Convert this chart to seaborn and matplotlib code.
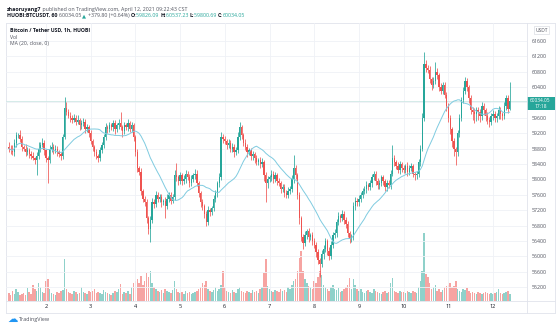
import numpy as np
import pandas as pd
import matplotlib
matplotlib.use("Agg")
import matplotlib.pyplot as plt
from matplotlib.lines import Line2D
from matplotlib.patches import Rectangle
import seaborn as sns

# ---------------------------------------------------------------
# BTC/USDT hourly candles (HUOBI), Apr 1 04:00 -> Apr 12 09:00
# ---------------------------------------------------------------
open_first = 58850.0

close = [
    # Apr 1 (04:00-23:00)
    58800, 58750, 58700, 58950, 59150, 59150, 59050, 58850, 58800, 58700,
    58750, 58650, 58600, 58550, 58500, 58600, 58800, 58900, 58950, 58750,
    # Apr 2
    58550, 58500, 58800, 58850, 58750, 58800, 58700, 58650, 58600, 59100,
    59850, 59750, 59650, 59600, 59550, 59600, 59500, 59550, 59400, 59450,
    59500, 59300, 59350, 59200,
    # Apr 3
    59000, 58850, 58700, 58600, 58550, 58750, 58900, 59100, 59350, 59300,
    59400, 59350, 59450, 59300, 59400, 59450, 59350, 59250, 59400, 59350,
    59450, 59300, 59400, 59100,
    # Apr 4
    58700, 58300, 58200, 57700, 57500, 57400, 57000, 56700, 56950, 57400,
    57350, 57600, 57500, 57550, 57400, 57450, 57300, 57500, 57600, 57450,
    57550, 58100, 58050, 57950,
    # Apr 5
    58100, 57950, 58000, 58150, 58050, 57900, 58000, 58100, 58150, 57900,
    57650, 57400, 57300, 57100, 56900, 57200, 57150, 57250, 57500, 57650,
    57900, 58050, 59100, 59050,
    # Apr 6
    59000, 58900, 58950, 58800, 58850, 58700, 58750, 59100, 59350, 59150,
    58950, 58850, 58700, 58750, 58600, 58650, 58550, 58450, 58500, 58400,
    58450, 58100, 57900, 58000,
    # Apr 7
    58050, 58150, 58000, 58100, 57950, 57900, 57750, 57800, 57650, 57600,
    57700, 57750, 58000, 58300, 58100, 57600, 57000, 56500, 56350, 56550,
    56650, 56500, 56550, 56400,
    # Apr 8
    56300, 56100, 55900, 55800, 56050, 56200, 56400, 56150, 56000, 56300,
    56550, 56600, 56900, 57050, 57000, 57100, 56950, 56850, 56600, 56450,
    56500, 57300, 57450, 57400,
    # Apr 9
    57500, 57600, 57700, 57750, 57850, 57800, 57900, 58050, 58150, 57950,
    57850, 57900, 58050, 57950, 57800, 57900, 57850, 58150, 58550, 58450,
    58350, 58250, 58400, 58300,
    # Apr 10
    58250, 58350, 58200, 58300, 58350, 58150, 58100, 58150, 58450, 58800,
    59600, 61000, 60900, 60850, 60600, 60450, 60550, 60800, 60700, 60400,
    60300, 60450, 60200, 59900,
    # Apr 11
    59600, 59300, 59000, 58800, 58700, 59200, 59600, 60050, 60300, 60550,
    60400, 60100, 59800, 59750, 59700, 59800, 59750, 59650, 59900, 59800,
    59650, 59550, 59500, 59650,
    # Apr 12 (00:00-09:00)
    59700, 59600, 59650, 59800, 59700, 59650, 59900, 60100, 59826.09, 60034.05,
]

# wick length above the body top / below the body bottom (USD)
wick_up = [
    120, 80, 150, 100, 90, 60, 140, 70, 50, 110, 90, 60, 80, 120, 40, 100, 160, 60, 130, 70,
    50, 60, 90, 120, 70, 80, 60, 50, 70, 90, 290, 150, 80, 110, 60, 90, 70, 120, 50, 80, 100, 60, 90, 70,
    80, 60, 50, 90, 70, 100, 60, 80, 110, 70, 90, 60, 100, 80, 50, 120, 300, 60, 90, 70, 110, 60, 80, 50,
    60, 80, 50, 90, 60, 70, 80, 50, 100, 120, 80, 90, 70, 60, 80, 50, 90, 110, 60, 70, 80, 150, 320, 60,
    90, 70, 120, 80, 60, 90, 110, 70, 130, 80, 60, 50, 90, 70, 80, 100, 60, 70, 90, 80, 60, 110, 120, 90,
    80, 60, 100, 70, 90, 60, 80, 120, 130, 70, 60, 90, 80, 60, 70, 90, 50, 80, 60, 70, 110, 60, 80, 90,
    60, 100, 70, 80, 60, 90, 50, 70, 80, 60, 90, 70, 120, 330, 80, 60, 70, 50, 90, 110, 70, 80, 60, 90,
    70, 60, 80, 50, 110, 90, 70, 60, 80, 90, 70, 100, 80, 100, 60, 100, 70, 60, 80, 50, 90, 110, 80, 70,
    90, 60, 80, 70, 100, 60, 90, 80, 60, 70, 90, 80, 60, 70, 50, 80, 70, 90, 340, 80, 60, 90, 70, 60,
    80, 60, 90, 70, 80, 60, 50, 70, 90, 100, 120, 300, 110, 80, 90, 60, 100, 250, 80, 60, 110, 70, 80, 60,
    90, 70, 60, 80, 50, 90, 100, 80, 110, 100, 80, 60, 90, 70, 100, 80, 90, 70, 110, 80, 60, 90, 70, 80,
    90, 80, 70, 110, 80, 60, 120, 90, 80, 503.18,
]
wick_dn = [
    80, 100, 60, 90, 120, 70, 80, 110, 60, 90, 70, 100, 80, 60, 90, 400, 70, 80, 60, 110,
    90, 600, 70, 80, 100, 60, 90, 70, 110, 80, 60, 90, 70, 100, 80, 60, 90, 70, 120, 80, 60, 90, 70, 100,
    80, 110, 90, 70, 100, 80, 60, 90, 70, 100, 80, 60, 90, 110, 70, 80, 60, 150, 80, 70, 90, 60, 80, 100,
    90, 110, 80, 120, 100, 90, 130, 110, 340, 80, 100, 70, 90, 80, 110, 70, 300, 80, 90, 100, 70, 80, 90, 100,
    80, 100, 70, 90, 80, 110, 70, 60, 90, 80, 100, 120, 90, 110, 100, 80, 90, 70, 60, 80, 100, 90, 70, 110,
    90, 120, 80, 100, 90, 110, 80, 70, 90, 100, 80, 90, 110, 80, 100, 90, 120, 80, 90, 110, 80, 150, 500, 120,
    80, 100, 90, 70, 110, 80, 100, 90, 120, 80, 90, 70, 80, 90, 100, 120, 150, 110, 160, 90, 100, 120, 80, 110,
    90, 120, 100, 340, 80, 110, 90, 120, 100, 80, 90, 70, 100, 80, 110, 90, 100, 120, 90, 110, 80, 70, 90, 100,
    80, 100, 90, 70, 110, 80, 90, 100, 80, 110, 90, 100, 80, 90, 110, 100, 80, 90, 70, 100, 80, 90, 110, 100,
    90, 80, 110, 90, 80, 100, 120, 90, 80, 100, 70, 80, 100, 90, 110, 120, 90, 80, 100, 110, 90, 80, 100, 120,
    110, 130, 150, 200, 330, 100, 90, 80, 70, 90, 100, 120, 110, 200, 250, 180, 220, 150, 100, 120, 140, 110, 130, 100,
    120, 100, 110, 90, 130, 100, 80, 90, 100, 25.4,
]

# hourly traded volume (x100 BTC)
volume = [
    8, 6, 10, 7, 12, 9, 6, 7, 8, 6, 13, 9, 7, 16, 12, 10, 18, 14, 9, 8,
    20, 22, 12, 8, 7, 6, 9, 8, 10, 11, 42, 12, 9, 8, 7, 10, 9, 7, 8, 14, 9, 8, 7, 10,
    9, 10, 12, 8, 9, 8, 7, 11, 9, 8, 7, 6, 8, 10, 9, 12, 17, 7, 9, 8, 10, 7, 14, 18,
    20, 22, 18, 25, 16, 20, 28, 24, 30, 18, 14, 12, 10, 9, 11, 8, 12, 10, 9, 8, 11, 20, 12, 9,
    8, 9, 7, 10, 8, 9, 7, 8, 9, 10, 12, 14, 18, 16, 20, 12, 10, 9, 11, 14, 10, 12, 16, 30,
    14, 10, 9, 8, 11, 9, 8, 12, 14, 10, 9, 8, 10, 9, 8, 11, 9, 10, 8, 12, 14, 28, 42, 15,
    12, 10, 9, 11, 10, 9, 12, 10, 11, 9, 14, 12, 16, 20, 22, 30, 43, 50, 30, 22, 18, 15, 14, 12,
    20, 18, 24, 30, 26, 16, 14, 12, 10, 14, 16, 12, 11, 13, 9, 10, 12, 14, 16, 23, 12, 22, 16, 12,
    10, 12, 9, 8, 10, 11, 9, 8, 12, 10, 9, 8, 7, 9, 10, 8, 9, 18, 23, 10, 9, 8, 10, 9,
    9, 8, 10, 9, 8, 10, 9, 8, 14, 20, 30, 68, 27, 24, 18, 12, 14, 16, 10, 12, 9, 11, 14, 15,
    16, 18, 14, 15, 20, 12, 10, 9, 12, 11, 13, 10, 8, 9, 8, 7, 9, 8, 7, 8, 9, 8, 7, 8,
    7, 8, 9, 12, 8, 7, 8, 9, 10, 7,
]

day_labels = ["2", "3", "4", "5", "6", "7", "8", "9", "10", "11", "12"]
first_hour = 4            # first candle is 04:00 on Apr 1
price_ticks = list(range(55200, 61601, 400))
last_price = 60034.05
countdown = "17:18"

# ---------------------------------------------------------------
df = pd.DataFrame({"close": close, "up": wick_up, "dn": wick_dn, "vol": volume})
df["idx"] = np.arange(len(df))
df["open"] = df["close"].shift(1).fillna(open_first)
df["top"] = df[["open", "close"]].max(axis=1)
df["bot"] = df[["open", "close"]].min(axis=1)
df["high"] = df["top"] + df["up"]
df["low"] = df["bot"] - df["dn"]
df["rising"] = df["close"] >= df["open"]
df["ma"] = df["close"].rolling(20, min_periods=1).mean()

UP, DOWN = "#26a69a", "#ef5350"
UP_V, DOWN_V = "#8fd1ca", "#f6a4a2"
TXT = "#131722"
GREY = "#50535e"
FONT = ["Open Sans", "DejaVu Sans"]

sns.set_theme(style="white")
plt.rcParams["font.family"] = FONT

W, H = 560, 327
fig = plt.figure(figsize=(W / 100, H / 100), dpi=100)
fig.patch.set_facecolor("white")


def fx(px):
    return px / W


def fy(py):
    return 1 - py / H


PL, PR, PT, PB = 6, 527, 23, 301
rect = [fx(PL), fy(PB), fx(PR) - fx(PL), fy(PT) - fy(PB)]

# volume pane underneath the price pane
axv = fig.add_axes(rect)
axv.set_zorder(1)
ax = fig.add_axes(rect, sharex=axv)
ax.set_zorder(2)
ax.patch.set_visible(False)

vol_w = 0.8
vcols = np.where(df["rising"], UP_V, DOWN_V)
axv.bar(df["idx"], df["vol"], width=vol_w, color=vcols, linewidth=0)
axv.set_ylim(0, 278)
axv.set_yticks([])

# grid
day_idx = [(24 - first_hour) + 24 * k for k in range(len(day_labels))]
ax.set_yticks(price_ticks)
ax.set_yticklabels(["" if p == 60000 else str(p) for p in price_ticks])
ax.grid(True, color="#eff1f6", linewidth=0.6, zorder=0)
ax.set_xticks(day_idx)
ax.set_xticklabels(day_labels)

# current-price line
ax.axhline(last_price, color="#cfe8e5", linewidth=0.6, zorder=1)

# candles
bar_w = 0.72
cols = np.where(df["rising"], UP, DOWN)
ax.vlines(df["idx"], df["low"], df["high"], colors=cols, linewidth=0.55, zorder=3)
body_h = np.maximum(df["top"] - df["bot"], 14)
ax.bar(df["idx"], body_h, bottom=df["bot"], width=bar_w, color=cols, linewidth=0, zorder=4)

# moving average
sns.lineplot(x=df["idx"], y=df["ma"], ax=ax, color="#7fcbe0", linewidth=0.7, zorder=5)

ax.set_xlim(-1.48, 278.25)
ax.set_ylim(54840, 62060)
ax.set_xlabel("")
ax.set_ylabel("")
ax.yaxis.tick_right()
ax.tick_params(axis="y", length=0, pad=3.5, labelsize=3.8, labelcolor=GREY)
ax.tick_params(axis="x", length=0, pad=2.2, labelsize=4.0, labelcolor=TXT)
for a in (ax, axv):
    for s in a.spines.values():
        s.set_visible(False)
axv.tick_params(axis="x", labelbottom=False, length=0)
axv.grid(False)

# frame lines
frame = "#e0e3eb"
for (x0, y0, x1, y1) in [(PL, PT, 555, PT), (PL, 313, 555, 313), (PL, PT, PL, 313),
                         (555, PT, 555, 313), (PR, PT, PR, 313), (PL, PB, 555, PB)]:
    fig.add_artist(Line2D([fx(x0), fx(x1)], [fy(y0), fy(y1)], color=frame, linewidth=0.6))

# current-price label on the price scale
fig.add_artist(Rectangle((fx(526), fy(110)), fx(555) - fx(526), fy(97) - fy(110),
                         facecolor=UP, edgecolor="none", transform=fig.transFigure))
fig.text(fx(540.5), fy(101), f"{last_price:.2f}", color="white", fontsize=3.5,
         ha="center", va="center")
fig.text(fx(540.5), fy(106.5), countdown, color="white", fontsize=3.5,
         ha="center", va="center")
fig.text(fx(541.5), fy(30), "USDT", color=GREY, fontsize=3.5, ha="center", va="center",
         bbox=dict(boxstyle="square,pad=0.35", facecolor="white", edgecolor="#d1d4dc", linewidth=0.4))

# header lines
renderer = fig.canvas.get_renderer()


def text_runs(x_px, y_px, runs, size):
    x = fx(x_px)
    for s, color, weight in runs:
        t = fig.text(x, fy(y_px), s, color=color, fontsize=size, fontweight=weight,
                     ha="left", va="center")
        bb = t.get_window_extent(renderer)
        x = bb.x1 / (fig.dpi * fig.get_figwidth())


text_runs(7, 9.8, [("zhaoruyang7", TXT, "bold"),
                   (" published on TradingView.com, April 12, 2021 09:22:43 CST", GREY, "normal")], 3.8)
text_runs(7, 15.6, [("HUOBI:BTCUSDT, 60 ", TXT, "bold"),
                    ("60034.05 ", GREY, "normal"),
                    ("▲ ", UP, "normal"),
                    ("+379.80 (+0.64%) ", GREY, "normal"),
                    ("O:", TXT, "bold"), ("59826.09 ", UP, "normal"),
                    ("H:", TXT, "bold"), ("60537.23 ", UP, "normal"),
                    ("L:", TXT, "bold"), ("59800.69 ", UP, "normal"),
                    ("C:", TXT, "bold"), ("60034.05", UP, "normal")], 3.8)

# pane legend
fig.text(fx(10), fy(30.5), "Bitcoin / Tether USD, 1h, HUOBI", color=TXT, fontsize=3.7,
         fontweight="bold", ha="left", va="center")
fig.text(fx(10), fy(37.3), "Vol", color=GREY, fontsize=3.7, ha="left", va="center")
fig.text(fx(10), fy(43.8), "MA (20, close, 0)", color=GREY, fontsize=3.7, ha="left", va="center")

# footer logo
fig.text(fx(7), fy(319), "☁", color="#2196f3", fontsize=7.5, ha="left", va="center",
         family="DejaVu Sans")
fig.text(fx(19), fy(319), "TradingView", color=GREY, fontsize=3.9, ha="left", va="center")

fig.savefig("out.png", dpi=100, facecolor="white")
